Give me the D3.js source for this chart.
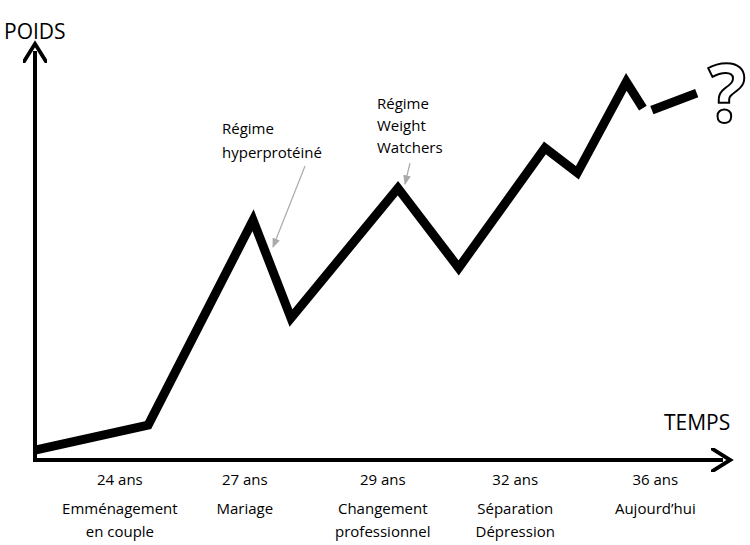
<!DOCTYPE html>
<html><head><meta charset="utf-8">
<script src="https://cdn.jsdelivr.net/npm/d3@7"></script>
<style>body{margin:0;background:#fff}text{font-family:"Open Sans",sans-serif}</style>
</head><body><svg></svg>
<script>
var width = 750, height = 545;
// weight curve (time 0-100, weight 0-100)
var weightA = [[0,2.4],[16.4,8.4],[31.6,57.8],[37.1,34.2],[52.6,65.5],[61.4,46.3],[73.9,75.2],[78.6,69.2],[85.7,91.1],[88.1,84.8]];
var weightB = [[89.4,84.3],[95.9,88.4]];
var tickPos = [12.3, 30.4, 50.4, 69.6, 89.9];
var tickAges = ["24 ans","27 ans","29 ans","32 ans","36 ans"];
var tickEvents = [["Emménagement","en couple"],["Mariage"],["Changement","professionnel"],["Séparation","Dépression"],["Aujourd’hui"]];

var x = d3.scaleLinear().domain([0,100]).range([35,725]);
var y = d3.scaleLinear().domain([0,100]).range([460,45]);

var svg = d3.select("svg").attr("width", width).attr("height", height);
var defs = svg.append("defs");
defs.append("marker").attr("id","ah").attr("viewBox","0 0 10 10").attr("refX",5).attr("refY",5)
  .attr("markerWidth",6).attr("markerHeight",6).attr("orient","auto")
  .append("path").attr("d","M0,0L8,5L0,10").attr("fill","none").attr("stroke","#000").attr("stroke-width",1.6);
defs.append("marker").attr("id","gh").attr("viewBox","0 0 10 10").attr("refX",9).attr("refY",5)
  .attr("markerWidth",8).attr("markerHeight",8).attr("orient","auto")
  .append("path").attr("d","M0,1L10,5L0,9z").attr("fill","#aaa");

// axes
svg.append("line").attr("x1",x(0)).attr("y1",y(0)).attr("x2",x(0)).attr("y2",y(100)+6)
  .attr("stroke","#000").attr("stroke-width",4).attr("marker-end","url(#ah)");
svg.append("line").attr("x1",x(0)-2).attr("y1",y(0)).attr("x2",x(100)-2).attr("y2",y(0))
  .attr("stroke","#000").attr("stroke-width",4).attr("marker-end","url(#ah)");

svg.append("text").attr("x",4).attr("y",39).attr("font-size",21).text("POIDS");
svg.append("text").attr("x",664).attr("y",430).attr("font-size",21).text("TEMPS");

var line = d3.line().x(d => x(d[0])).y(d => y(d[1]));
[weightA, weightB].forEach(s => svg.append("path").attr("d", line(s)).attr("fill","none")
  .attr("stroke","#000").attr("stroke-width",9).attr("stroke-linejoin","miter"));

tickPos.forEach((t,i) => {
  svg.append("text").attr("x",x(t)).attr("y",485).attr("text-anchor","middle").attr("font-size",15).text(tickAges[i]);
  tickEvents[i].forEach((s,j) => svg.append("text").attr("x",x(t)).attr("y",514+j*23)
    .attr("text-anchor","middle").attr("font-size",15).text(s));
});

// annotations
[["Régime",222,134],["hyperprotéiné",222,158]].forEach(a =>
  svg.append("text").attr("x",a[1]).attr("y",a[2]).attr("font-size",15).text(a[0]));
[["Régime",377,109],["Weight",377,131],["Watchers",377,153]].forEach(a =>
  svg.append("text").attr("x",a[1]).attr("y",a[2]).attr("font-size",15).text(a[0]));
svg.append("line").attr("x1",305).attr("y1",166).attr("x2",273).attr("y2",247)
  .attr("stroke","#aaa").attr("stroke-width",1.2).attr("marker-end","url(#gh)");
svg.append("line").attr("x1",410).attr("y1",163).attr("x2",405).attr("y2",184)
  .attr("stroke","#aaa").attr("stroke-width",1.2).attr("marker-end","url(#gh)");

svg.append("text").attr("x",727).attr("y",122).attr("text-anchor","middle").attr("font-size",80)
  .attr("font-weight","bold").attr("fill","#fff").attr("stroke","#000").attr("stroke-width",2).text("?");
</script></body></html>
